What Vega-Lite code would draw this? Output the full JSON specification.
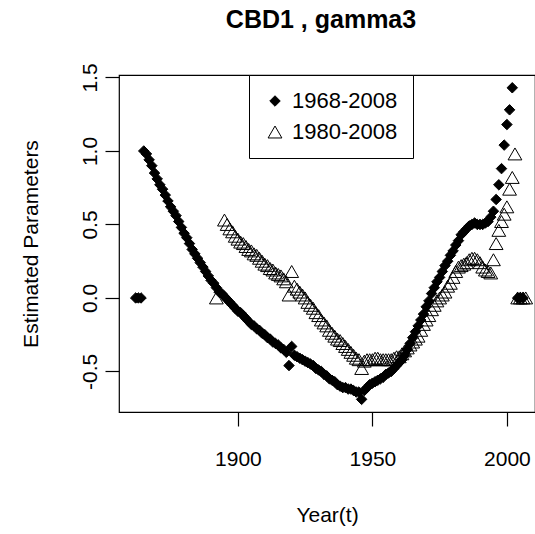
{
"$schema": "https://vega.github.io/schema/vega-lite/v6.json",
"width": 416, "height": 337,
"autosize": {"type": "none"},
"padding": {"left": 119, "top": 75, "right": 0, "bottom": 122},
"background": "white",
"config": {"font": "Liberation Sans", "view": {"stroke": "black", "strokeWidth": 1.2},
  "legend": {"orient": "none", "legendX": 130, "legendY": 0, "title": null, "padding": 15, "strokeColor": "black", "fillColor": "white",
      "labelFontSize": 22, "labelColor": "black", "labelFont": "Liberation Sans", "labelOffset": 6, "rowPadding": 9, "symbolStrokeWidth": 1}},
"title": {"text": "CBD1 , gamma3", "fontSize": 25, "fontWeight": "bold", "font": "Liberation Sans", "color": "black", "anchor": "middle", "frame": "group", "baseline": "alphabetic", "offset": 10, "dx": -6},
"data": {"values": [
{"year":1862,"value":0,"series":"1968-2008"},{"year":1863,"value":0,"series":"1968-2008"},{"year":1864,"value":0,"series":"1968-2008"},
{"year":1865,"value":1.00,"series":"1968-2008"},{"year":1866,"value":0.98,"series":"1968-2008"},{"year":1867,"value":0.94,"series":"1968-2008"},{"year":1868,"value":0.90,"series":"1968-2008"},{"year":1869,"value":0.85,"series":"1968-2008"},{"year":1870,"value":0.81,"series":"1968-2008"},{"year":1871,"value":0.77,"series":"1968-2008"},{"year":1872,"value":0.74,"series":"1968-2008"},{"year":1873,"value":0.70,"series":"1968-2008"},{"year":1874,"value":0.66,"series":"1968-2008"},{"year":1875,"value":0.62,"series":"1968-2008"},{"year":1876,"value":0.59,"series":"1968-2008"},{"year":1877,"value":0.56,"series":"1968-2008"},{"year":1878,"value":0.52,"series":"1968-2008"},{"year":1879,"value":0.48,"series":"1968-2008"},{"year":1880,"value":0.44,"series":"1968-2008"},{"year":1881,"value":0.41,"series":"1968-2008"},{"year":1882,"value":0.37,"series":"1968-2008"},{"year":1883,"value":0.33,"series":"1968-2008"},{"year":1884,"value":0.30,"series":"1968-2008"},{"year":1885,"value":0.27,"series":"1968-2008"},{"year":1886,"value":0.24,"series":"1968-2008"},{"year":1887,"value":0.21,"series":"1968-2008"},{"year":1888,"value":0.18,"series":"1968-2008"},{"year":1889,"value":0.15,"series":"1968-2008"},{"year":1890,"value":0.12,"series":"1968-2008"},{"year":1891,"value":0.10,"series":"1968-2008"},{"year":1892,"value":0.07,"series":"1968-2008"},{"year":1893,"value":0.04,"series":"1968-2008"},{"year":1894,"value":0.03,"series":"1968-2008"},{"year":1895,"value":0.01,"series":"1968-2008"},{"year":1896,"value":-0.01,"series":"1968-2008"},{"year":1897,"value":-0.03,"series":"1968-2008"},{"year":1898,"value":-0.05,"series":"1968-2008"},{"year":1899,"value":-0.07,"series":"1968-2008"},
{"year":1900,"value":-0.09,"series":"1968-2008"},{"year":1901,"value":-0.10,"series":"1968-2008"},{"year":1902,"value":-0.12,"series":"1968-2008"},{"year":1903,"value":-0.14,"series":"1968-2008"},{"year":1904,"value":-0.16,"series":"1968-2008"},{"year":1905,"value":-0.18,"series":"1968-2008"},{"year":1906,"value":-0.19,"series":"1968-2008"},{"year":1907,"value":-0.21,"series":"1968-2008"},{"year":1908,"value":-0.22,"series":"1968-2008"},{"year":1909,"value":-0.24,"series":"1968-2008"},{"year":1910,"value":-0.25,"series":"1968-2008"},{"year":1911,"value":-0.27,"series":"1968-2008"},{"year":1912,"value":-0.28,"series":"1968-2008"},{"year":1913,"value":-0.30,"series":"1968-2008"},{"year":1914,"value":-0.31,"series":"1968-2008"},{"year":1915,"value":-0.32,"series":"1968-2008"},{"year":1916,"value":-0.34,"series":"1968-2008"},{"year":1917,"value":-0.35,"series":"1968-2008"},{"year":1918,"value":-0.37,"series":"1968-2008"},{"year":1919,"value":-0.46,"series":"1968-2008"},{"year":1920,"value":-0.33,"series":"1968-2008"},{"year":1921,"value":-0.39,"series":"1968-2008"},{"year":1922,"value":-0.40,"series":"1968-2008"},{"year":1923,"value":-0.41,"series":"1968-2008"},{"year":1924,"value":-0.42,"series":"1968-2008"},{"year":1925,"value":-0.43,"series":"1968-2008"},{"year":1926,"value":-0.44,"series":"1968-2008"},{"year":1927,"value":-0.45,"series":"1968-2008"},{"year":1928,"value":-0.46,"series":"1968-2008"},{"year":1929,"value":-0.48,"series":"1968-2008"},{"year":1930,"value":-0.49,"series":"1968-2008"},{"year":1931,"value":-0.50,"series":"1968-2008"},{"year":1932,"value":-0.52,"series":"1968-2008"},{"year":1933,"value":-0.53,"series":"1968-2008"},{"year":1934,"value":-0.55,"series":"1968-2008"},{"year":1935,"value":-0.56,"series":"1968-2008"},{"year":1936,"value":-0.57,"series":"1968-2008"},{"year":1937,"value":-0.59,"series":"1968-2008"},{"year":1938,"value":-0.60,"series":"1968-2008"},{"year":1939,"value":-0.61,"series":"1968-2008"},{"year":1940,"value":-0.61,"series":"1968-2008"},{"year":1941,"value":-0.62,"series":"1968-2008"},{"year":1942,"value":-0.62,"series":"1968-2008"},{"year":1943,"value":-0.63,"series":"1968-2008"},{"year":1944,"value":-0.64,"series":"1968-2008"},{"year":1945,"value":-0.64,"series":"1968-2008"},{"year":1946,"value":-0.69,"series":"1968-2008"},{"year":1947,"value":-0.63,"series":"1968-2008"},{"year":1948,"value":-0.61,"series":"1968-2008"},{"year":1949,"value":-0.59,"series":"1968-2008"},
{"year":1950,"value":-0.58,"series":"1968-2008"},{"year":1951,"value":-0.57,"series":"1968-2008"},{"year":1952,"value":-0.56,"series":"1968-2008"},{"year":1953,"value":-0.55,"series":"1968-2008"},{"year":1954,"value":-0.54,"series":"1968-2008"},{"year":1955,"value":-0.52,"series":"1968-2008"},{"year":1956,"value":-0.51,"series":"1968-2008"},{"year":1957,"value":-0.50,"series":"1968-2008"},{"year":1958,"value":-0.48,"series":"1968-2008"},{"year":1959,"value":-0.46,"series":"1968-2008"},{"year":1960,"value":-0.44,"series":"1968-2008"},{"year":1961,"value":-0.42,"series":"1968-2008"},{"year":1962,"value":-0.39,"series":"1968-2008"},{"year":1963,"value":-0.35,"series":"1968-2008"},{"year":1964,"value":-0.31,"series":"1968-2008"},{"year":1965,"value":-0.27,"series":"1968-2008"},{"year":1966,"value":-0.23,"series":"1968-2008"},{"year":1967,"value":-0.19,"series":"1968-2008"},{"year":1968,"value":-0.15,"series":"1968-2008"},{"year":1969,"value":-0.11,"series":"1968-2008"},{"year":1970,"value":-0.06,"series":"1968-2008"},{"year":1971,"value":-0.02,"series":"1968-2008"},{"year":1972,"value":0.03,"series":"1968-2008"},{"year":1973,"value":0.07,"series":"1968-2008"},{"year":1974,"value":0.11,"series":"1968-2008"},{"year":1975,"value":0.14,"series":"1968-2008"},{"year":1976,"value":0.18,"series":"1968-2008"},{"year":1977,"value":0.22,"series":"1968-2008"},{"year":1978,"value":0.25,"series":"1968-2008"},{"year":1979,"value":0.29,"series":"1968-2008"},{"year":1980,"value":0.32,"series":"1968-2008"},{"year":1981,"value":0.36,"series":"1968-2008"},{"year":1982,"value":0.39,"series":"1968-2008"},{"year":1983,"value":0.43,"series":"1968-2008"},{"year":1984,"value":0.45,"series":"1968-2008"},{"year":1985,"value":0.47,"series":"1968-2008"},{"year":1986,"value":0.49,"series":"1968-2008"},{"year":1987,"value":0.50,"series":"1968-2008"},{"year":1988,"value":0.51,"series":"1968-2008"},{"year":1989,"value":0.50,"series":"1968-2008"},{"year":1990,"value":0.50,"series":"1968-2008"},{"year":1991,"value":0.50,"series":"1968-2008"},{"year":1992,"value":0.51,"series":"1968-2008"},{"year":1993,"value":0.52,"series":"1968-2008"},{"year":1994,"value":0.55,"series":"1968-2008"},{"year":1995,"value":0.59,"series":"1968-2008"},{"year":1996,"value":0.67,"series":"1968-2008"},{"year":1997,"value":0.77,"series":"1968-2008"},{"year":1998,"value":0.88,"series":"1968-2008"},{"year":1999,"value":1.04,"series":"1968-2008"},{"year":2000,"value":1.18,"series":"1968-2008"},{"year":2001,"value":1.28,"series":"1968-2008"},{"year":2002,"value":1.43,"series":"1968-2008"},
{"year":2004,"value":0,"series":"1968-2008"},{"year":2005,"value":0,"series":"1968-2008"},{"year":2006,"value":0,"series":"1968-2008"},
{"year":1892,"value":0,"series":"1980-2008"},
{"year":1895,"value":0.53,"series":"1980-2008"},{"year":1896,"value":0.50,"series":"1980-2008"},{"year":1897,"value":0.47,"series":"1980-2008"},{"year":1898,"value":0.45,"series":"1980-2008"},{"year":1899,"value":0.42,"series":"1980-2008"},{"year":1900,"value":0.40,"series":"1980-2008"},{"year":1901,"value":0.38,"series":"1980-2008"},{"year":1902,"value":0.37,"series":"1980-2008"},{"year":1903,"value":0.35,"series":"1980-2008"},{"year":1904,"value":0.33,"series":"1980-2008"},{"year":1905,"value":0.32,"series":"1980-2008"},{"year":1906,"value":0.30,"series":"1980-2008"},{"year":1907,"value":0.29,"series":"1980-2008"},{"year":1908,"value":0.27,"series":"1980-2008"},{"year":1909,"value":0.25,"series":"1980-2008"},{"year":1910,"value":0.23,"series":"1980-2008"},{"year":1911,"value":0.22,"series":"1980-2008"},{"year":1912,"value":0.20,"series":"1980-2008"},{"year":1913,"value":0.19,"series":"1980-2008"},{"year":1914,"value":0.17,"series":"1980-2008"},{"year":1915,"value":0.16,"series":"1980-2008"},{"year":1916,"value":0.15,"series":"1980-2008"},{"year":1917,"value":0.13,"series":"1980-2008"},{"year":1918,"value":0.11,"series":"1980-2008"},{"year":1919,"value":0.02,"series":"1980-2008"},{"year":1920,"value":0.18,"series":"1980-2008"},{"year":1921,"value":0.08,"series":"1980-2008"},{"year":1922,"value":0.06,"series":"1980-2008"},{"year":1923,"value":0.04,"series":"1980-2008"},{"year":1924,"value":0.02,"series":"1980-2008"},{"year":1925,"value":0.00,"series":"1980-2008"},{"year":1926,"value":-0.03,"series":"1980-2008"},{"year":1927,"value":-0.05,"series":"1980-2008"},{"year":1928,"value":-0.07,"series":"1980-2008"},{"year":1929,"value":-0.10,"series":"1980-2008"},{"year":1930,"value":-0.12,"series":"1980-2008"},{"year":1931,"value":-0.15,"series":"1980-2008"},{"year":1932,"value":-0.17,"series":"1980-2008"},{"year":1933,"value":-0.19,"series":"1980-2008"},{"year":1934,"value":-0.22,"series":"1980-2008"},{"year":1935,"value":-0.24,"series":"1980-2008"},{"year":1936,"value":-0.26,"series":"1980-2008"},{"year":1937,"value":-0.28,"series":"1980-2008"},{"year":1938,"value":-0.29,"series":"1980-2008"},{"year":1939,"value":-0.31,"series":"1980-2008"},{"year":1940,"value":-0.33,"series":"1980-2008"},{"year":1941,"value":-0.35,"series":"1980-2008"},{"year":1942,"value":-0.37,"series":"1980-2008"},{"year":1943,"value":-0.39,"series":"1980-2008"},{"year":1944,"value":-0.41,"series":"1980-2008"},{"year":1945,"value":-0.42,"series":"1980-2008"},{"year":1946,"value":-0.48,"series":"1980-2008"},{"year":1947,"value":-0.43,"series":"1980-2008"},{"year":1948,"value":-0.42,"series":"1980-2008"},{"year":1949,"value":-0.42,"series":"1980-2008"},
{"year":1950,"value":-0.42,"series":"1980-2008"},{"year":1951,"value":-0.41,"series":"1980-2008"},{"year":1952,"value":-0.41,"series":"1980-2008"},{"year":1953,"value":-0.42,"series":"1980-2008"},{"year":1954,"value":-0.42,"series":"1980-2008"},{"year":1955,"value":-0.42,"series":"1980-2008"},{"year":1956,"value":-0.42,"series":"1980-2008"},{"year":1957,"value":-0.42,"series":"1980-2008"},{"year":1958,"value":-0.41,"series":"1980-2008"},{"year":1959,"value":-0.40,"series":"1980-2008"},{"year":1960,"value":-0.40,"series":"1980-2008"},{"year":1961,"value":-0.38,"series":"1980-2008"},{"year":1962,"value":-0.36,"series":"1980-2008"},{"year":1963,"value":-0.34,"series":"1980-2008"},{"year":1964,"value":-0.32,"series":"1980-2008"},{"year":1965,"value":-0.30,"series":"1980-2008"},{"year":1966,"value":-0.28,"series":"1980-2008"},{"year":1967,"value":-0.26,"series":"1980-2008"},{"year":1968,"value":-0.22,"series":"1980-2008"},{"year":1969,"value":-0.18,"series":"1980-2008"},{"year":1970,"value":-0.15,"series":"1980-2008"},{"year":1971,"value":-0.12,"series":"1980-2008"},{"year":1972,"value":-0.08,"series":"1980-2008"},{"year":1973,"value":-0.05,"series":"1980-2008"},{"year":1974,"value":-0.02,"series":"1980-2008"},{"year":1975,"value":0.00,"series":"1980-2008"},{"year":1976,"value":0.02,"series":"1980-2008"},{"year":1977,"value":0.04,"series":"1980-2008"},{"year":1978,"value":0.08,"series":"1980-2008"},{"year":1979,"value":0.10,"series":"1980-2008"},{"year":1980,"value":0.14,"series":"1980-2008"},{"year":1981,"value":0.18,"series":"1980-2008"},{"year":1982,"value":0.21,"series":"1980-2008"},{"year":1983,"value":0.22,"series":"1980-2008"},{"year":1984,"value":0.23,"series":"1980-2008"},{"year":1985,"value":0.24,"series":"1980-2008"},{"year":1986,"value":0.26,"series":"1980-2008"},{"year":1987,"value":0.27,"series":"1980-2008"},{"year":1988,"value":0.27,"series":"1980-2008"},{"year":1989,"value":0.26,"series":"1980-2008"},{"year":1990,"value":0.24,"series":"1980-2008"},{"year":1991,"value":0.21,"series":"1980-2008"},{"year":1992,"value":0.19,"series":"1980-2008"},{"year":1993,"value":0.18,"series":"1980-2008"},{"year":1994,"value":0.17,"series":"1980-2008"},{"year":1995,"value":0.26,"series":"1980-2008"},{"year":1996,"value":0.37,"series":"1980-2008"},{"year":1997,"value":0.46,"series":"1980-2008"},{"year":1998,"value":0.52,"series":"1980-2008"},{"year":1999,"value":0.57,"series":"1980-2008"},{"year":2000,"value":0.62,"series":"1980-2008"},{"year":2001,"value":0.74,"series":"1980-2008"},{"year":2002,"value":0.82,"series":"1980-2008"},{"year":2003,"value":0.98,"series":"1980-2008"},
{"year":2004,"value":0,"series":"1980-2008"},{"year":2005,"value":0,"series":"1980-2008"},{"year":2006,"value":0,"series":"1980-2008"},{"year":2007,"value":0,"series":"1980-2008"}
]},
"mark": {"type": "point", "strokeWidth": 1, "opacity": 1},
"encoding": {
  "x": {"field": "year", "type": "quantitative",
    "scale": {"domain": [1855.8, 2010.45], "nice": false, "zero": false},
    "axis": {"values": [1900, 1950, 2000], "format": "d", "title": "Year(t)", "grid": false, "domain": false,
      "tickColor": "black", "tickSize": 14, "tickWidth": 1.2, "labelFontSize": 21, "labelColor": "black", "labelPadding": 22,
      "labelFont": "Liberation Sans", "titleFont": "Liberation Sans",
      "titleFontSize": 21, "titleFontWeight": "normal", "titleColor": "black", "titleBaseline": "alphabetic", "titleY": 109}},
  "y": {"field": "value", "type": "quantitative",
    "scale": {"domain": [-0.776, 1.517], "nice": false, "zero": false},
    "axis": {"values": [-0.5, 0, 0.5, 1, 1.5], "format": ".1f",
      "labelExpr": "datum.value < 0 ? '-' + format(-datum.value, '.1f') : format(datum.value, '.1f')",
      "title": "Estimated Parameters", "grid": false, "domain": false,
      "tickColor": "black", "tickSize": 14, "tickWidth": 1.2, "labelAngle": 270, "labelAlign": "center", "labelBaseline": "alphabetic",
      "labelPadding": 9, "labelFontSize": 21, "labelColor": "black", "labelFont": "Liberation Sans", "titleFont": "Liberation Sans",
      "titleFontSize": 21, "titleFontWeight": "normal", "titleColor": "black",
      "titleX": -88, "titleY": 168.5, "titleAngle": 270, "titleAlign": "center", "titleBaseline": "middle"}},
  "shape": {"field": "series", "type": "nominal",
    "scale": {"domain": ["1968-2008", "1980-2008"], "range": ["diamond", "triangle-up"]}},
  "fill": {"field": "series", "type": "nominal",
    "scale": {"domain": ["1968-2008", "1980-2008"], "range": ["black", "transparent"]}},
  "stroke": {"field": "series", "type": "nominal",
    "scale": {"domain": ["1968-2008", "1980-2008"], "range": ["black", "black"]}},
  "size": {"field": "series", "type": "nominal",
    "scale": {"domain": ["1968-2008", "1980-2008"], "range": [110, 190]}}
}
}
